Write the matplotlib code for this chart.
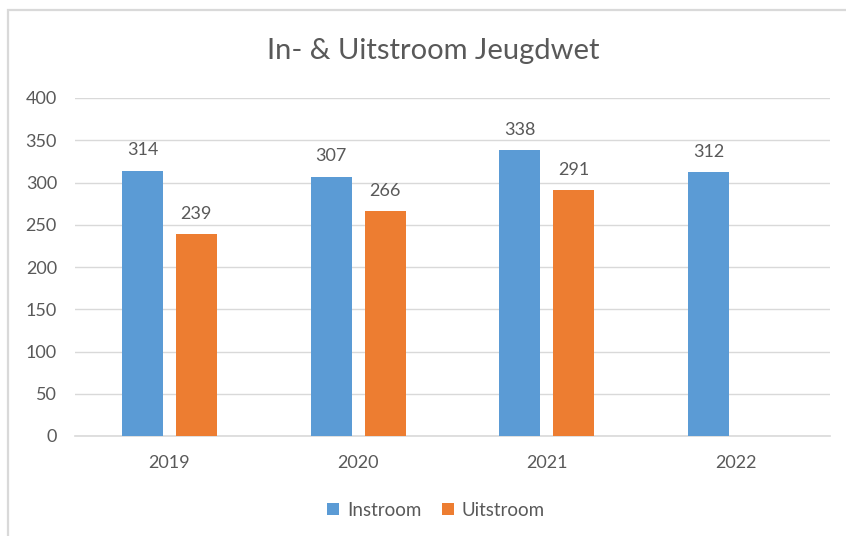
import matplotlib
matplotlib.use("Agg")
import matplotlib.pyplot as plt
from matplotlib.patches import Rectangle
import numpy as np

YEARS = ["2019", "2020", "2021", "2022"]
INSTROOM = [314, 307, 338, 312]
UITSTROOM = [239, 266, 291, np.nan]
Y_TICKS = [0, 50, 100, 150, 200, 250, 300, 350, 400]

BLUE = "#5B9BD5"
ORANGE = "#ED7D31"
TEXT = "#595959"
GRID = "#D9D9D9"

plt.rcParams["font.family"] = ["Lato", "DejaVu Sans"]

W, H = 846, 536
fig = plt.figure(figsize=(W / 100, H / 100), dpi=100)
ax = fig.add_axes([75 / W, 1 - 436 / H, 755 / W, 338 / H])

x = np.arange(len(YEARS))
width = 0.217
off = 0.143

b1 = ax.bar(x - off, INSTROOM, width=width, color=BLUE, label="Instroom", zorder=3)
b2 = ax.bar(x + off, UITSTROOM, width=width, color=ORANGE, label="Uitstroom", zorder=3)

for bars, vals in ((b1, INSTROOM), (b2, UITSTROOM)):
    labels = ["" if np.isnan(v) else f"{int(v)}" for v in vals]
    ax.bar_label(bars, labels=labels, padding=9, fontsize=13, color=TEXT)

ax.set_xlim(-0.5, len(YEARS) - 0.5)
ax.set_ylim(0, 400)
ax.set_yticks(Y_TICKS)
ax.set_xticks(x)
ax.set_xticklabels(YEARS)
ax.tick_params(axis="both", length=0, labelsize=13, labelcolor=TEXT)
ax.tick_params(axis="y", pad=13)
ax.tick_params(axis="x", pad=14)
ax.grid(axis="y", color=GRID, linewidth=1.0, zorder=0)
for side in ("left", "right", "top"):
    ax.spines[side].set_visible(False)
ax.spines["bottom"].set_color(GRID)
ax.spines["bottom"].set_linewidth(1.2)

fig.text(433 / W, 1 - 51 / H, "In- & Uitstroom Jeugdwet", ha="center", va="center",
         fontsize=21, color=TEXT)

fig.legend(handles=[b1, b2], loc="center", bbox_to_anchor=(436 / W, 1 - 510 / H), ncol=2,
           frameon=False, fontsize=13.5, labelcolor=TEXT, handlelength=0.65, handleheight=0.65,
           handletextpad=0.4, columnspacing=1.1)

fig.add_artist(Rectangle((8 / W, -0.05), 1.0, 1.05 - 10 / H, transform=fig.transFigure,
                         fill=False, edgecolor=GRID, linewidth=1.6))

fig.savefig("out.png", dpi=100)
